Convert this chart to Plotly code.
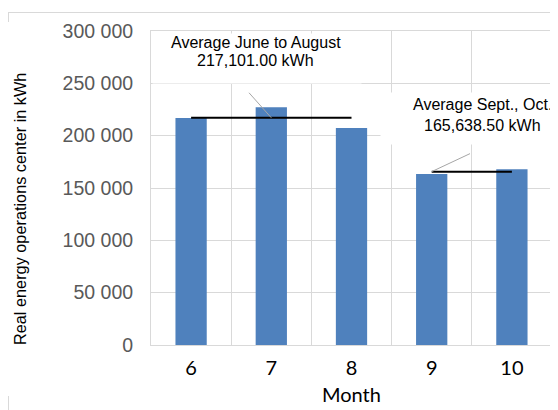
import plotly.graph_objects as go

# ---- data ----
months = [6, 7, 8, 9, 10]
energy_kwh = [216950, 227100, 207253, 163300, 167977]
summer_months = [6, 7, 8]
autumn_months = [9, 10]
y_ticks = [0, 50000, 100000, 150000, 200000, 250000, 300000]

summer_vals = [v for m, v in zip(months, energy_kwh) if m in summer_months]
autumn_vals = [v for m, v in zip(months, energy_kwh) if m in autumn_months]
avg_summer = sum(summer_vals) / len(summer_vals)
avg_autumn = sum(autumn_vals) / len(autumn_vals)

OFF = 8  # page body margin
W, H = 558 - OFF, 410 - OFF
L, R, T, B = 143, 6, 23, 65
PW, PH = W - L - R, H - T - B
YMAX = 300000

def px(x):  # screen pixel x -> paper
    return (x - OFF - L) / PW

def py(y):  # screen pixel y -> paper
    return (H - B - (y - OFF)) / PH

GRID = "#d9d9d9"
BAR = "#4f81bd"
FONT = "Liberation Sans, Arial, sans-serif"
XFONT = "Lato, Liberation Sans, sans-serif"

fig = go.Figure()
fig.add_trace(go.Bar(x=months, y=energy_kwh, width=0.39,
                     marker=dict(color=BAR, line=dict(width=0)), showlegend=False))
fig.add_trace(go.Scatter(x=[summer_months[0], summer_months[-1]], y=[avg_summer, avg_summer],
                         mode="lines", line=dict(color="black", width=2), showlegend=False))
fig.add_trace(go.Scatter(x=[autumn_months[0], autumn_months[-1]], y=[avg_autumn, avg_autumn],
                         mode="lines", line=dict(color="black", width=2), showlegend=False))

lo, hi = months[0] - 0.5, months[-1] + 0.5
fig.update_xaxes(range=[lo, hi], tickvals=months, ticktext=[str(m) for m in months],
                 showgrid=False, zeroline=False,
                 minor=dict(tick0=lo, dtick=1, showgrid=True, gridcolor=GRID, gridwidth=1),
                 showline=True, linecolor=GRID, linewidth=1, mirror=True,
                 tickfont=dict(family=XFONT, size=20, color="black"),
                 ticklabelstandoff=5)
fig.update_yaxes(range=[0, YMAX], tickvals=y_ticks, tickformat=",d",
                 showgrid=True, gridcolor=GRID, gridwidth=1, zeroline=False,
                 showline=True, linecolor=GRID, linewidth=1, mirror=True,
                 tickfont=dict(family=FONT, size=19.5, color="#595959"),
                 ticklabelstandoff=13)

def xdata_to_screen(xv):
    return OFF + L + (xv - lo) * PW / (hi - lo)

anns = []
# white label boxes (hide gridlines)
anns.append(dict(xref="paper", yref="paper", x=px(152), y=py(32.5), xanchor="left", yanchor="top",
                 text=" ", width=208, height=49, bgcolor="white", borderpad=0, showarrow=False))
anns.append(dict(xref="paper", yref="paper", x=px(380), y=py(92), xanchor="left", yanchor="top",
                 text=" ", width=178, height=51, bgcolor="white", borderpad=0, showarrow=False))
# label texts
tf = dict(family=FONT, size=16, color="black")
anns.append(dict(xref="paper", yref="paper", x=px(255.5), y=py(42), xanchor="center", yanchor="middle",
                 text="Average June to August", font=tf, showarrow=False))
anns.append(dict(xref="paper", yref="paper", x=px(255.5), y=py(61), xanchor="center", yanchor="middle",
                 text=f"{avg_summer:,.2f} kWh", font=tf, showarrow=False))
anns.append(dict(xref="paper", yref="paper", x=px(482), y=py(104.5), xanchor="center", yanchor="middle",
                 text="Average Sept., Oct.", font=tf, showarrow=False))
anns.append(dict(xref="paper", yref="paper", x=px(482.5), y=py(125), xanchor="center", yanchor="middle",
                 text=f"{avg_autumn:,.2f} kWh", font=tf, showarrow=False))
# axis titles
anns.append(dict(xref="paper", yref="paper", x=px(20), y=py(209), xanchor="center", yanchor="middle",
                 text="Real energy operations center in kWh", textangle=-90,
                 font=dict(family=FONT, size=16.3, color="black"), showarrow=False))
anns.append(dict(xref="paper", yref="paper", x=px(351), y=py(394), xanchor="center", yanchor="middle",
                 text="Month", font=dict(family=XFONT, size=20, color="black"),
                 showarrow=False))

shapes = []
# leader lines
shapes.append(dict(type="line", xref="paper", yref="y",
                   x0=px(249), x1=px(xdata_to_screen(summer_months[1])),
                   y0=avg_summer + (118 - 93) * YMAX / PH, y1=avg_summer,
                   line=dict(color="#a6a6a6", width=1)))
shapes.append(dict(type="line", xref="paper", yref="y",
                   x0=px(470), x1=px(xdata_to_screen(autumn_months[0])),
                   y0=avg_autumn + (171 - 153) * YMAX / PH, y1=avg_autumn,
                   line=dict(color="#a6a6a6", width=1)))
# outer chart border fragments
shapes.append(dict(type="line", xref="paper", yref="paper", x0=px(8), x1=px(558), y0=py(12.5), y1=py(12.5),
                   line=dict(color=GRID, width=1)))
shapes.append(dict(type="line", xref="paper", yref="paper", x0=px(8.5), x1=px(8.5), y0=py(12), y1=py(22),
                   line=dict(color=GRID, width=1)))
shapes.append(dict(type="line", xref="paper", yref="paper", x0=px(8.5), x1=px(8.5), y0=py(396), y1=py(410),
                   line=dict(color=GRID, width=1)))

fig.update_layout(width=W, height=H, margin=dict(l=L, r=R, t=T, b=B, pad=0),
                  paper_bgcolor="white", plot_bgcolor="white",
                  separators=". ", annotations=anns, shapes=shapes,
                  font=dict(family=FONT))
fig.write_html("out.html")
